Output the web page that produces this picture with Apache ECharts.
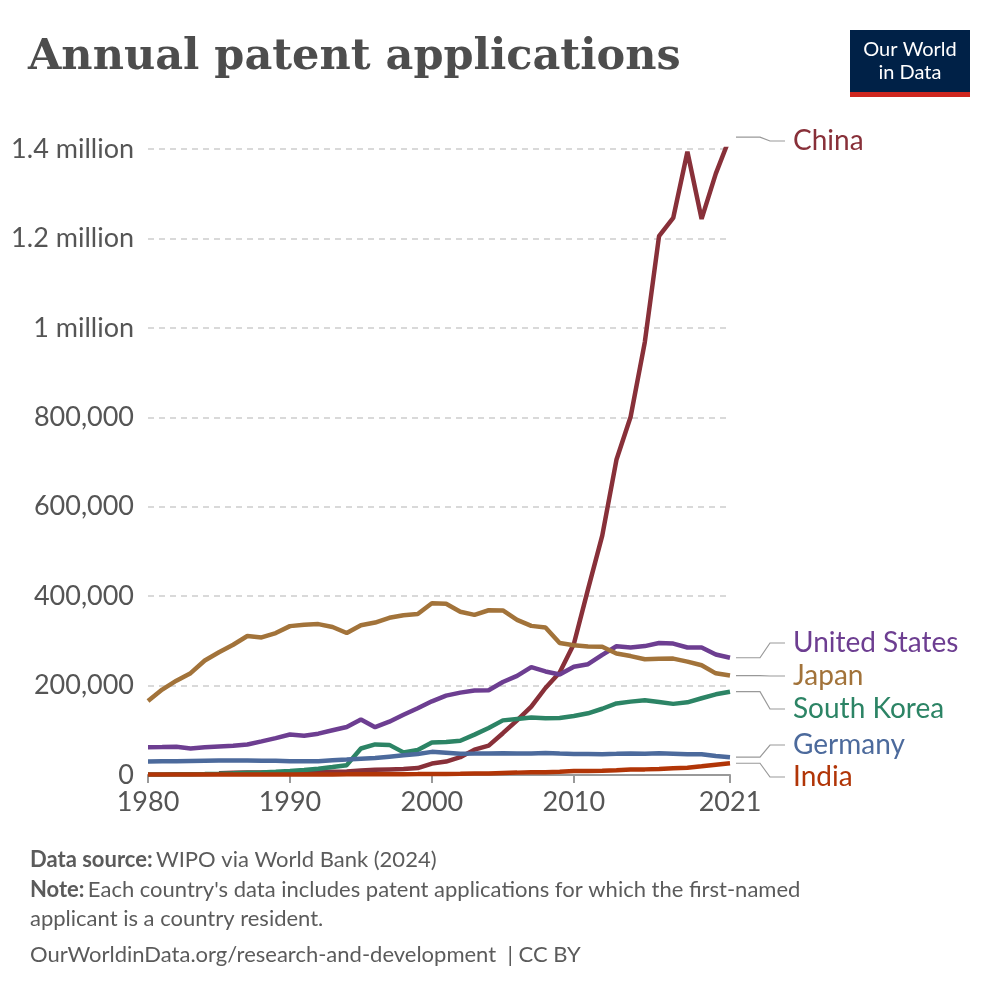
<!DOCTYPE html>
<html>
<head>
<meta charset="utf-8"/>
<title>Annual patent applications</title>
<script src="https://cdn.jsdelivr.net/npm/echarts@6/dist/echarts.min.js"></script>
<style>
  body { margin: 0; background: #fff; }
  #main { width: 1000px; height: 1000px; }
</style>
</head>
<body>
<div id="main"></div>
<script>
var years = [];
for (var y = 1980; y <= 2021; y++) years.push(y);

// values, 1980..2021
var china = [null, null, null, null, null, 4065, 5000, 5500, 5500, 5600, 5832, 6500, 7000, 7500, 8000, 10011, 11500, 12500, 13500, 15596,
  25592, 30038, 39806, 56769, 65786, 93485, 122318, 153060, 194579, 229096, 293066, 415829, 535313, 704936, 801135, 968252, 1204981, 1245709, 1393815, 1243568, 1344817, 1426644];
var usa = [62098, 62404, 63316, 59391, 61841, 63673, 65195, 68315, 75192, 82370, 90643, 87955, 92425, 99955, 107233, 123962, 106892, 119214, 134733, 149251,
  164795, 177511, 184245, 188941, 189536, 207867, 221784, 241347, 231588, 224912, 241977, 247750, 268782, 287831, 285096, 288335, 295327, 293904, 285095, 285113, 269586, 262244];
var japan = [165730, 191020, 210902, 227708, 256172, 274373, 291302, 310907, 307760, 317353, 332952, 335933, 337514, 331087, 317668, 335061, 340861, 351487, 357379, 360180,
  384201, 382815, 365204, 358184, 368416, 367960, 347060, 333498, 330110, 295315, 290081, 287580, 287013, 271731, 265959, 258839, 260244, 260290, 253630, 245372, 227348, 222452];
var korea = [1241, 1319, 1556, 1599, 1977, 2703, 3641, 4871, 5696, 7276, 9082, 11040, 14132, 17800, 22000, 59236, 68446, 67359, 50596, 55970,
  72831, 73714, 76570, 90313, 105250, 122188, 125476, 128701, 127114, 127316, 131805, 138034, 148136, 159978, 164073, 167275, 163424, 159084, 162561, 171603, 180477, 186245];
var germany = [30000, 30500, 31000, 31500, 32000, 32300, 32400, 32200, 32000, 31600, 30724, 30500, 31000, 33000, 34500, 36500, 38000, 41000, 44000, 47000,
  51736, 49989, 47598, 47818, 48329, 48367, 48012, 47853, 49240, 47859, 47047, 46986, 46620, 47353, 48144, 47384, 48480, 47785, 46617, 46632, 42260, 39822];
var india = [1000, 1000, 1000, 1000, 1000, 1000, 1000, 1000, 1050, 1100, 1147, 1200, 1250, 1300, 1400, 1545, 1660, 1800, 1900, 2000,
  2206, 2379, 2693, 3218, 3630, 4721, 5314, 6296, 6161, 7262, 8853, 8841, 9553, 10669, 12040, 12579, 13219, 14961, 16289, 19454, 23141, 26267];

var xTicks = [1980, 1990, 2000, 2010, 2021];

var seriesDefs = [
  { name: 'China', data: china, color: '#883039', labelY: 141 },
  { name: 'United States', data: usa, color: '#6D3E91', labelY: 643 },
  { name: 'Japan', data: japan, color: '#A2733A', labelY: 676 },
  { name: 'South Korea', data: korea, color: '#2C8465', labelY: 709 },
  { name: 'Germany', data: germany, color: '#4C6A9C', labelY: 745 },
  { name: 'India', data: india, color: '#B13507', labelY: 777 }
];

var yTickLabels = { 0: '0', 200000: '200,000', 400000: '400,000', 600000: '600,000', 800000: '800,000',
  1000000: '1 million', 1200000: '1.2 million', 1400000: '1.4 million' };

var chart = echarts.init(document.getElementById('main'));
var font = 'Lato, "Noto Sans", sans-serif';

var series = seriesDefs.map(function (s) {
  return {
    name: s.name,
    type: 'line',
    data: years.map(function (yr, i) { return [yr, s.data[i]]; }),
    showSymbol: false,
    lineStyle: { color: s.color, width: 4.5 },
    itemStyle: { color: s.color },
    silent: true
  };
});

chart.setOption({
  animation: false,
  grid: { left: 148, right: 270, top: 149, bottom: 225 },
  xAxis: {
    type: 'value', min: 1980, max: 2021,
    splitLine: { show: false },
    axisLine: { show: true, lineStyle: { color: '#999', width: 2 } },
    axisTick: { show: true, length: 8, lineStyle: { color: '#999', width: 2 }, customValues: xTicks },
    axisLabel: { customValues: xTicks, color: '#555', fontSize: 27, fontFamily: font, margin: 14,
      formatter: function (v) { return String(v); } }
  },
  yAxis: {
    type: 'value', min: 0, max: 1400000, interval: 200000,
    axisLine: { show: false }, axisTick: { show: false },
    splitLine: { lineStyle: { color: '#d9d9d9', type: [6, 5], width: 2 } },
    axisLabel: { color: '#555', fontSize: 27, fontFamily: font, margin: 14,
      formatter: function (v) { return yTickLabels[v]; } }
  },
  series: series,
  graphic: [
    { type: 'text', left: 28, top: 36, style: { text: 'Annual patent applications', font: 'bold 43px "DejaVu Serif", "Liberation Serif", serif', fill: '#4d4d4d' } },
    { type: 'rect', shape: { x: 850, y: 30, width: 120, height: 62 }, style: { fill: '#002147' } },
    { type: 'rect', shape: { x: 850, y: 92, width: 120, height: 5 }, style: { fill: '#CE261E' } },
    { type: 'text', x: 910, y: 61, style: { text: 'Our World\nin Data', font: '20px ' + font, fill: '#fff', align: 'center', verticalAlign: 'middle', lineHeight: 23 } },
    { type: 'text', left: 30, top: 849, style: { rich: { b: { fontWeight: 'bold', fontSize: 22, fontFamily: font, fill: '#5b5b5b' }, n: { fontSize: 22, fontFamily: font, fill: '#5b5b5b' } }, text: '{b|Data source:} {n|WIPO via World Bank (2024)}' } },
    { type: 'text', left: 30, top: 879, style: { rich: { b: { fontWeight: 'bold', fontSize: 22, fontFamily: font, fill: '#5b5b5b', lineHeight: 29 }, n: { fontSize: 22, fontFamily: font, fill: '#5b5b5b', lineHeight: 29 } }, text: '{b|Note:} {n|Each country\'s data includes patent applications for which the first-named}\n{n|applicant is a country resident.}' } },
    { type: 'text', left: 30, top: 944, style: { text: 'OurWorldinData.org/research-and-development  | CC BY', font: '22px ' + font, fill: '#5b5b5b' } }
  ]
});

// right-hand labels with leader lines, attached to each series' final value
var gr = chart.getOption().graphic[0].elements.slice();
seriesDefs.forEach(function (s) {
  var last = s.data[s.data.length - 1];
  var p = chart.convertToPixel({ gridIndex: 0 }, [2021, last]);
  gr.push({ type: 'polyline', shape: { points: [[p[0] + 6, p[1]], [760, p[1]], [770, s.labelY], [785, s.labelY]] }, style: { stroke: '#999', lineWidth: 1.2, fill: null } });
  gr.push({ type: 'text', x: 793, y: s.labelY, style: { text: s.name, font: '28px ' + font, fill: s.color, verticalAlign: 'middle' } });
});
chart.setOption({ graphic: gr });
</script>
</body>
</html>
